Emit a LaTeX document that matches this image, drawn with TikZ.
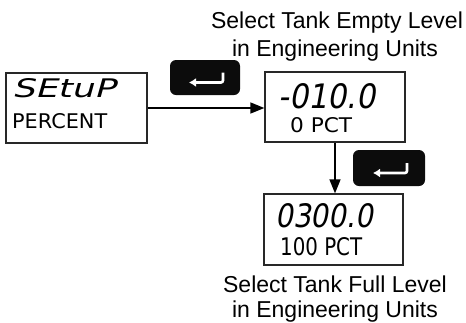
\documentclass[tikz,border=0pt]{standalone}
\usepackage{fontspec}
\setmainfont{Liberation Sans}
\newfontfamily\segfont{DejaVu Sans}
\newfontfamily\segslant[FakeSlant=0.2]{DejaVu Sans}
\usepackage{graphicx}
\usetikzlibrary{arrows.meta, positioning}
\definecolor{keyblack}{RGB}{12,12,12}
\definecolor{frame}{RGB}{40,40,40}
% display text squeezed to a measured width and height
\newcommand{\segline}[4]{\resizebox{#1pt}{#2pt}{#3#4}}

\tikzset{
  display/.style={draw=frame, line width=1.3pt, inner sep=0pt},
  enterkey/.style={fill=keyblack, rounded corners=6pt, inner sep=0pt},
  segtext/.style={anchor=base west, inner sep=0pt},
  caption/.style={anchor=base, inner sep=0pt, font=\fontsize{23}{28}\selectfont},
  flow/.style={-{Triangle[length=14pt,width=11pt]}, line width=1.5pt},
  glyph/.style={{Latex[length=7pt,width=9pt]}-, white, line width=2.6pt, rounded corners=2pt}
}

\begin{document}
\begin{tikzpicture}[x=1pt,y=1pt]
\useasboundingbox (0,0) rectangle (466,-322);

%displays:
 \node[display, minimum width=141pt, minimum height=70pt] (setup) at (76.5,-108) {};
 \node[display, minimum width=140pt, minimum height=70pt] (emptylvl) at (335,-107) {};
 \node[display, minimum width=139pt, minimum height=71pt] (fulllvl) at (333.5,-229.5) {};

%display readings
 \node[segtext] (setupA) at (12,-97) {\segline{103}{19}{\segslant}{SEtuP}};
 \node[segtext] (setupB) at (12,-128) {\segline{95}{15}{\segfont}{PERCENT}};
 \node[segtext] (emptyA) at (278,-108) {\segline{97}{25}{\segslant}{-010.0}};
 \node[segtext] (emptyB) at (290,-132) {\segline{62}{15}{\segfont}{0 PCT}};
 \node[segtext] (fullA) at (275,-227) {\segline{98}{24}{\segslant}{0300.0}};
 \node[segtext] (fullB) at (280,-255) {\segline{82}{18}{\segfont}{100 PCT}};

%enter keys
 \node[enterkey, minimum width=70pt, minimum height=35pt] (enterA) at (205,-77.5) {};
 \node[enterkey, minimum width=72pt, minimum height=36pt] (enterB) at (389,-168) {};
 \foreach \k in {enterA,enterB}{
  \draw[glyph] ([xshift=-16pt,yshift=-5pt]\k.center) -- ([xshift=18pt,yshift=-5pt]\k.center)
     -- ([xshift=18pt,yshift=5pt]\k.center);
 }

%steps
 \draw[flow] (setup.east) -- (setup.east -| emptylvl.west);
 \draw[flow] (emptylvl.south) -- (emptylvl.south |- fulllvl.north);

%captions
 \node[caption] (emptyCapA) at (337,-28) {Select Tank Empty Level};
 \node[caption] (emptyCapB) at (335,-56) {in Engineering Units};
 \node[caption] (fullCapA) at (335,-292) {Select Tank Full Level};
 \node[caption] (fullCapB) at (335,-317) {in Engineering Units};
\end{tikzpicture}
\end{document}
